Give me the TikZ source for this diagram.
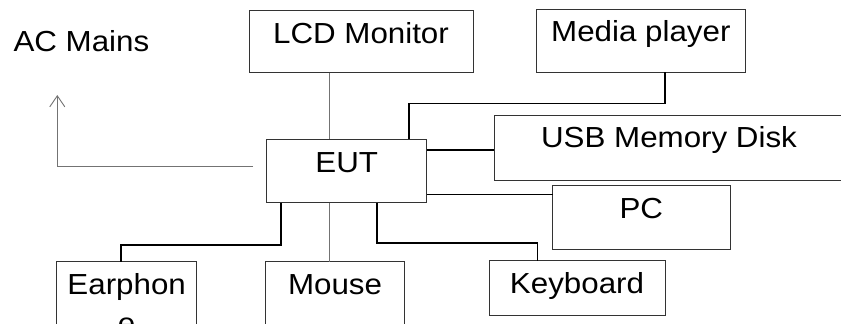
\documentclass[tikz,border=0pt]{standalone}
\usepackage{fontspec}
\setmainfont{Liberation Sans}[FakeStretch=1.08]
\usetikzlibrary{arrows.meta}
\tikzset{
    box/.style={draw=black!80,line width=0.8pt,anchor=north west,inner sep=0pt,outer sep=0pt,
        text height=32.7pt,text depth=31pt,font=\fontsize{29}{39}\selectfont},
    wire/.style={line width=1.6pt},
    lead/.style={draw=black!55,line width=0.9pt},
}
\begin{document}
\begin{tikzpicture}[x=1pt,y=-1pt]
                \path[use as bounding box,fill=white] (0,0) rectangle (841,324);
                \node[anchor=base west,inner sep=0pt,font=\fontsize{29}{39}\selectfont] (ac) at (13.3,51.7) {AC Mains};
                \node[box,minimum width=224pt,text depth=29.3pt] (lcd) at (249,10.7) {LCD Monitor};
                \node[box,minimum width=208.3pt,text depth=30.6pt] (media) at (536.7,9) {Media player};
                \node[box,minimum width=160pt,text depth=30.7pt] (eut) at (266.7,139.3) {EUT};
                \node[box,minimum width=350pt,text depth=32.3pt] (usb) at (494,115) {USB Memory Disk};
                \node[box,minimum width=177.3pt,text depth=30.9pt] (pc) at (552.7,185.7) {PC};
                \node[box,minimum width=176pt,text depth=21.8pt] (kbd) at (489,260.7) {Keyboard};
                \node[box,minimum width=138.6pt,text depth=80pt] (mouse) at (265.7,261.7) {Mouse};
                \node[box,minimum width=140pt,text depth=80pt] (earphone) at (56.7,261.7) {\begin{tabular}[t]{@{}c@{}}Earphon\\e\end{tabular}};
                \coordinate (acend) at (57.3,95);
                \draw[lead] ([xshift=-32pt]lcd.south) -- ([xshift=-32pt]lcd.south |- eut.north);
                \draw[lead] ([xshift=-17.4pt]eut.south) -- ([xshift=-17.4pt]eut.south |- mouse.north);
                \draw[lead,-{Straight Barb[length=11pt,width=15pt]}] ([xshift=-13.7pt,yshift=4.3pt]eut.west) -| (acend);
                \draw[wire] ([xshift=24.2pt]media.south) -- ++(0,31) -| ([xshift=62.3pt]eut.north);
                \draw[wire] ([yshift=21pt]eut.east) -- ([yshift=21pt]eut.east -| usb.west);
                \draw[wire] ([yshift=-23.3pt]eut.east) -- ([yshift=-23.3pt]eut.east -| pc.west);
                \draw[wire] ([xshift=30.3pt]eut.south) -- ++(0,40.5) -| ([xshift=-39.7pt]kbd.north);
                \draw[wire] ([xshift=-65.7pt]eut.south) -- ++(0,42.3) -| ([xshift=-6pt]earphone.north);
\end{tikzpicture}
\end{document}
